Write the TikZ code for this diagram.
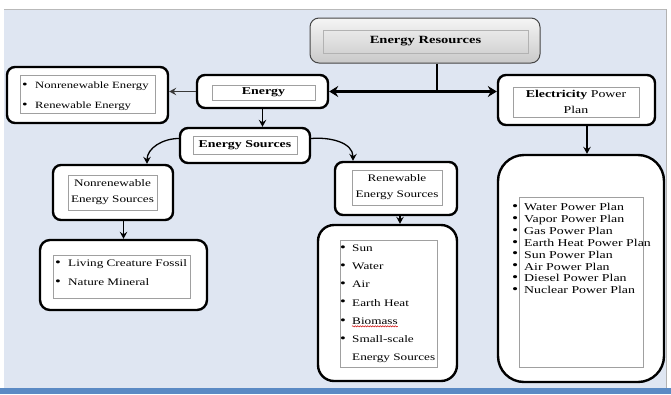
\documentclass[tikz,border=0pt]{standalone}
\usepackage{fontspec}
\setmainfont[FakeStretch=1.32]{Liberation Serif}
\usetikzlibrary{arrows.meta,decorations.pathmorphing,calc}
\definecolor{bgblue}{HTML}{DFE6F2}
\definecolor{edgeblue}{HTML}{5B8AC4}
\definecolor{innergray}{HTML}{A0A0A0}
\newcommand\blt[1]{\makebox[#1][l]{\raisebox{0.2pt}{\scalebox{1.25}{\textbullet}}}}
\begin{document}
\begin{tikzpicture}[x=1pt,y=-1pt,
  box/.style={draw=black,line width=2.4pt,rounded corners=8pt,fill=white,inner sep=0pt},
  inbox/.style={draw=innergray,line width=0.6pt,inner sep=0pt,align=center,font=\fontsize{10}{16}\selectfont},
  item/.style={inner sep=0pt,font=\fontsize{10}{12}\selectfont},
  pitem/.style={inner sep=0pt,font=\fontsize{10.5}{12}\selectfont,text height=7.2pt,text depth=2.2pt},
  arr/.style={line width=1.3pt,-{Stealth[length=7pt,width=7.5pt,inset=2.5pt]}},
  dbl/.style={line width=2.4pt,{Stealth[length=9pt,width=11pt,inset=3pt]}-{Stealth[length=9pt,width=11pt,inset=3pt]}},
]
\useasboundingbox (0,0) rectangle (671,394);
\fill[white] (0,0) rectangle (671,394);
\fill[bgblue] (4,9) rectangle (666,390);
\draw[gray!55,line width=0.8pt] (4,9) -- (666,9);
\draw[gray!60,line width=1pt] (666,9) -- (666,390);
\fill[edgeblue] (0,388) rectangle (671,394);

% Energy Resources
\node[draw=gray!55!black,line width=1pt,rounded corners=9pt,top color=gray!8,bottom color=gray!42,
      minimum width=230pt,minimum height=45pt,inner sep=0pt] (res) at (425,40.5) {};
\node[inbox,draw=gray!60,minimum width=205pt,minimum height=23pt,font=\fontsize{11}{13}\selectfont\bfseries] (resin) at (425.5,41.5) {Energy Resources};

% Energy
\node[box,minimum width=131pt,minimum height=33pt] (en) at (262.5,91.5) {};
\node[inbox,minimum width=103pt,minimum height=15pt,font=\fontsize{10.5}{12}\selectfont\bfseries] (enin) at (263.5,92.5) {Energy};

% Nonrenewable / Renewable Energy list
\node[box,minimum width=161pt,minimum height=56pt] (lst) at (87.5,95) {};
\node[inbox,minimum width=135pt,minimum height=38pt] (lstin) at (87.5,94) {};
\node[item,font=\fontsize{9.6}{12}\selectfont,anchor=base west] (lst1) at (22,88.5) {\blt{13pt}Nonrenewable Energy};
\node[item,font=\fontsize{9.6}{12}\selectfont,anchor=base west] (lst2) at (22,108.5) {\blt{13pt}Renewable Energy};

% Electricity Power Plan
\node[box,minimum width=157pt,minimum height=50pt] (elec) at (576.5,100) {};
\node[inbox,minimum width=126pt,minimum height=30pt,font=\fontsize{10.5}{16}\selectfont] (elecin) at (576,102) {\textbf{Electricity} Power\\Plan};

% Energy Sources
\node[box,minimum width=130pt,minimum height=35pt] (src) at (245,145.5) {};
\node[inbox,minimum width=104pt,minimum height=18pt,font=\fontsize{10.5}{12}\selectfont\bfseries] (srcin) at (245,145) {Energy Sources};

% Nonrenewable Energy Sources
\node[box,minimum width=120pt,minimum height=55pt] (nrs) at (113,192.5) {};
\node[inbox,minimum width=89pt,minimum height=35pt] (nrsin) at (112.5,192.5) {Nonrenewable\\Energy Sources};

% Renewable Energy Sources
\node[box,minimum width=122pt,minimum height=53pt] (rs) at (396,188.5) {};
\node[inbox,minimum width=90pt,minimum height=35pt] (rsin) at (397,187.5) {Renewable\\Energy Sources};

% Living Creature Fossil list
\node[box,rounded corners=10pt,minimum width=167pt,minimum height=70pt] (lc) at (123.5,275) {};
\node[inbox,minimum width=137pt,minimum height=43pt] (lcin) at (121.5,276.5) {};
\node[item,anchor=base west] (lc1) at (55,266.5) {\blt{13pt}Living Creature Fossil};
\node[item,anchor=base west] (lc2) at (55,285.5) {\blt{13pt}Nature Mineral};

% Renewable list
\node[box,rounded corners=16pt,minimum width=139pt,minimum height=156pt] (rl) at (387.5,303) {};
\node[inbox,minimum width=97pt,minimum height=127pt] (rlin) at (388.5,303.5) {};
\node[item,anchor=base west] (rl1) at (340,251.5) {\blt{12pt}Sun};
\node[item,anchor=base west] (rl2) at (340,269.7) {\blt{12pt}Water};
\node[item,anchor=base west] (rl3) at (340,287.9) {\blt{12pt}Air};
\node[item,anchor=base west] (rl4) at (340,306.1) {\blt{12pt}Earth Heat};
\node[item,anchor=base west] (rl5b) at (340,324.3) {\blt{12pt}};
\node[item,anchor=base west] (rl5) at (352,324.3) {Biomass};
\node[item,anchor=base west] (rl6) at (340,342.5) {\blt{12pt}Small-scale};
\node[item,anchor=base west] (rl7) at (352,360.7) {Energy Sources};
\draw[red!80!black,line width=0.5pt,decorate,decoration={snake,amplitude=0.6pt,segment length=2.5pt}]
  ([yshift=-2pt]rl5.base west) -- ([yshift=-2pt]rl5.base east);

% Power plan list
\node[box,rounded corners=26pt,minimum width=166pt,minimum height=227pt] (pl) at (581,268.5) {};
\node[inbox,minimum width=124pt,minimum height=170pt] (plin) at (581,282) {};
\foreach \t [count=\i] in {Water Power Plan,Vapor Power Plan,Gas Power Plan,Earth Heat Power Plan,Sun Power Plan,Air Power Plan,Diesel Power Plan,Nuclear Power Plan}
  \node[pitem,anchor=base west] (pl\i) at (512,198.6+\i*11.9) {\blt{12pt}\t};

% connectors
\coordinate (j) at (437,91.5);
\draw[line width=2.4pt] (res.south -| j) -- (j);
\draw[dbl] (en.east) -- (en.east -| elec.west);
\draw[arr,draw=gray!45!black] (en.west) -- (en.west -| lst.east);
\draw[arr] (en.south) -- (en.south |- src.north);
\draw[arr] ([yshift=7pt]src.west) to[out=180,in=90] ([xshift=34pt]nrs.north);
\draw[arr] ([yshift=7pt]src.east) to[out=5,in=90] ([xshift=-43pt]rs.north);
\draw[arr] (nrs.south -| lc.north) -- (lc.north);
\draw[arr] ([xshift=4pt]rs.south) -- ([xshift=4pt]rs.south |- rl.north);
\draw[arr] ([xshift=10.5pt]elec.south) -- ([xshift=10.5pt]elec.south |- pl.north);
\end{tikzpicture}
\end{document}
